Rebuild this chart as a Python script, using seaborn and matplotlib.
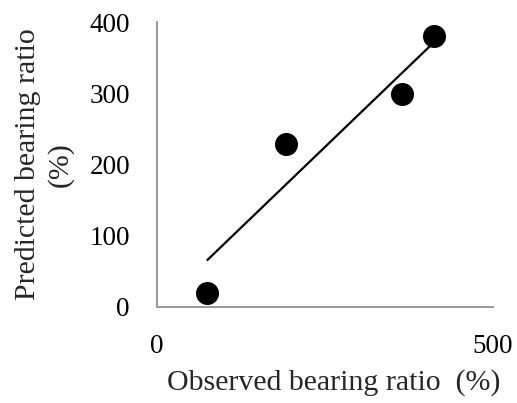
import matplotlib
matplotlib.use("Agg")
import matplotlib.pyplot as plt
import seaborn as sns
import pandas as pd

observed = [74, 192, 364, 412]
predicted = [19, 229, 299, 380]
trend_x = [75, 406]
trend_y = [66, 366]
x_ticks = [0, 500]
y_ticks = [0, 100, 200, 300, 400]

sns.set_style("white")
plt.rcParams['font.family'] = ['Liberation Serif', 'DejaVu Serif']

fig = plt.figure(figsize=(5.17, 4.03), dpi=100)
ax = fig.add_axes([157/517, 1-307/403, 336/517, 285/403])

df = pd.DataFrame({"obs": observed, "pred": predicted})
tr = pd.DataFrame({"x": trend_x, "y": trend_y})
sns.lineplot(data=tr, x="x", y="y", ax=ax, color="black", linewidth=1.6)
sns.scatterplot(data=df, x="obs", y="pred", ax=ax, color="black", s=275,
                edgecolor="black", linewidth=0, zorder=3)

ax.set_xlim(0, 500)
ax.set_ylim(0, 400)
ax.set_xticks(x_ticks)
ax.set_yticks(y_ticks)
for s in ["top", "right"]:
    ax.spines[s].set_visible(False)
for s in ["left", "bottom"]:
    ax.spines[s].set_color("#999999")
    ax.spines[s].set_linewidth(1.4)
ax.tick_params(axis="both", direction="in", length=7, width=1.4, color="#999999",
               labelsize=19.5, labelcolor="black")
ax.tick_params(axis="y", pad=19.5)
ax.tick_params(axis="x", pad=19.5)

ax.set_xlabel("Observed bearing ratio  (%)", fontsize=21.5)
ax.set_ylabel("Predicted bearing ratio\n(%)", fontsize=21.5, linespacing=1.3)
ax.xaxis.set_label_coords(0.527, -0.218)
ax.yaxis.set_label_coords(-0.247, 0.5)

fig.savefig("out.png", dpi=100, facecolor="white")
